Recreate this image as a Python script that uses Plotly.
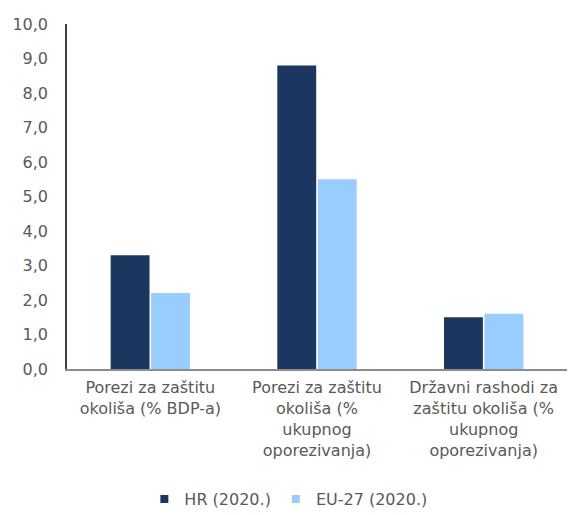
import plotly.graph_objects as go

categories = [
    "Porezi za zaštitu<br>okoliša (% BDP-a)",
    "Porezi za zaštitu<br>okoliša (%<br>ukupnog<br>oporezivanja)",
    "Državni rashodi za<br>zaštitu okoliša (%<br>ukupnog<br>oporezivanja)",
]
hr_values = [3.3, 8.8, 1.5]
eu_values = [2.2, 5.5, 1.6]
series_names = ["HR (2020.)", "EU-27 (2020.)"]
series_colors = ["#1B3760", "#99CCFF"]
y_ticks = [0, 1, 2, 3, 4, 5, 6, 7, 8, 9, 10]

FONT = "DejaVu Sans"
TXT = "#595959"

fig = go.Figure()
for vals, name, col in zip([hr_values, eu_values], series_names, series_colors):
    fig.add_trace(go.Bar(x=categories, y=vals, name=name, showlegend=False,
                         marker=dict(color=col, line=dict(width=0))))
# legend proxies with small square symbols
for name, col in zip(series_names, series_colors):
    fig.add_trace(go.Scatter(x=[None], y=[None], mode="markers", name=name,
                             marker=dict(symbol="square", size=8, color=col)))

fig.update_layout(
    width=571, height=515,
    margin=dict(l=67, r=4, t=24, b=146),
    paper_bgcolor="white", plot_bgcolor="white",
    separators=", ",
    barmode="group", bargap=0.514, bargroupgap=0.04,
    font=dict(family=FONT, size=16, color=TXT),
    showlegend=True,
    legend=dict(orientation="h", xref="container", yref="container",
                x=0.505, xanchor="center", y=0.031, yanchor="middle",
                font=dict(family=FONT, size=16, color=TXT), itemwidth=30),
    xaxis=dict(showline=True, linecolor="#8C8C8C", linewidth=2, ticks="",
               automargin=False, fixedrange=True, ticklabelstandoff=3,
               tickfont=dict(family=FONT, size=16, color=TXT), showgrid=False),
    yaxis=dict(range=[0, 10], tickvals=y_ticks, tickformat=".1f", showgrid=False,
               showline=True, linecolor="#404040", linewidth=1.5, ticks="",
               ticklabelstandoff=14, zeroline=False, automargin=False, fixedrange=True,
               tickfont=dict(family=FONT, size=16, color=TXT)),
)

fig.write_html("out.html", config={"displayModeBar": False},
               post_script="document.body.style.margin='0';")
